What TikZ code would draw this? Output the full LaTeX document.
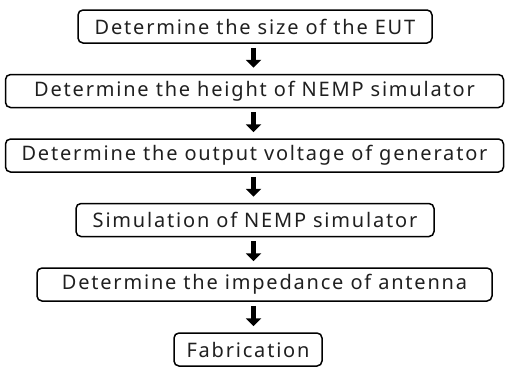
\documentclass[tikz,border=0pt]{standalone}
\usepackage{fontspec}
\setmainfont{Noto Sans}
\newfontfamily\stepfont[LetterSpace=9]{Noto Sans}
\usetikzlibrary{arrows.meta}
\begin{document}
\begin{tikzpicture}[x=1pt,y=-1pt,
  stepbox/.style={draw=black, line width=1.5pt, rounded corners=5pt, inner sep=0pt,
    minimum height=33pt, font=\stepfont\fontsize{20}{23}\selectfont, text=black!88},
  flow/.style={line width=5.5pt, -{Triangle[width=15pt,length=8pt]}, shorten <=4pt, shorten >=6pt}]
\useasboundingbox (0,0) rectangle (505,367);
\coordinate (ax) at (253.5,0);
\node[stepbox, minimum width=354pt] (b1) at (255,26.5) {Determine the size of the EUT};
\node[stepbox, minimum width=498pt] (b2) at (254.5,91) {Determine the height of NEMP simulator};
\node[stepbox, minimum width=498pt] (b3) at (254.5,155.5) {Determine the output voltage of generator};
\node[stepbox, minimum width=358pt] (b4) at (255,220) {Simulation of NEMP simulator};
\node[stepbox, minimum width=455pt] (b5) at (264.5,284.5) {Determine the impedance of antenna};
\node[stepbox, minimum width=148pt] (b6) at (248,349.5) {Fabrication};
\draw[flow] (b1.south -| ax) -- (b2.north -| ax);
\draw[flow] (b2.south -| ax) -- (b3.north -| ax);
\draw[flow] (b3.south -| ax) -- (b4.north -| ax);
\draw[flow] (b4.south -| ax) -- (b5.north -| ax);
\draw[flow] (b5.south -| ax) -- (b6.north -| ax);
\end{tikzpicture}
\end{document}
